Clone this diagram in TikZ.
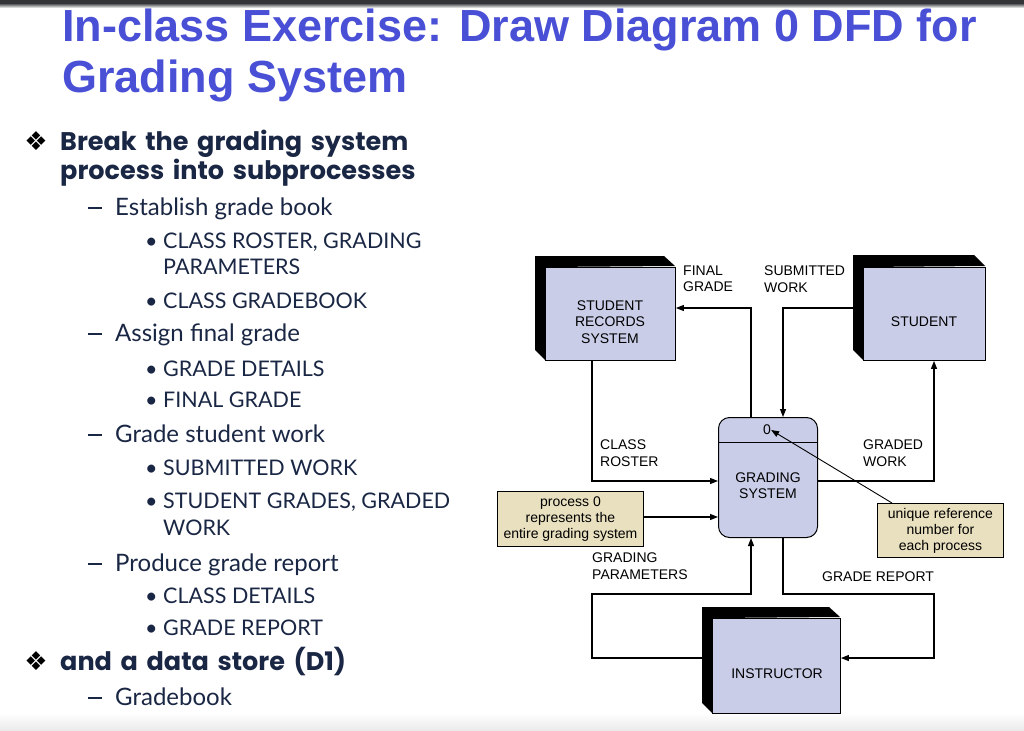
\documentclass[tikz,border=0pt]{standalone}
\usepackage{fontspec}
\setmainfont{Liberation Sans}
\newfontfamily\gill{Lato}
\newfontfamily\gillhead{Poppins}[WordSpace=1.6]
\newfontfamily\dejavu{DejaVu Sans}
\usetikzlibrary{arrows.meta,calc}
\definecolor{titleblue}{RGB}{73,80,214}
\definecolor{navy}{RGB}{26,39,68}
\definecolor{facecol}{RGB}{201,205,232}
\definecolor{tancol}{RGB}{233,224,192}
\definecolor{topbar}{RGB}{50,52,56}
\newcommand{\dashmark}{\rule[6.5pt]{14pt}{1.5pt}}
\begin{document}
\begin{tikzpicture}[x=1pt,y=-1pt,
  face/.style={draw=black, line width=0.9pt, fill=facecol, inner sep=0pt, anchor=north west},
  boxtext/.style={align=center, font=\fontsize{14}{16.3}\selectfont, inner sep=0pt},
  note/.style={draw=black, line width=0.9pt, fill=tancol, align=center, font=\fontsize{14}{16}\selectfont, inner sep=0pt, anchor=north west},
  lbl/.style={anchor=west, align=left, font=\fontsize{14}{16.5}\selectfont, inner sep=0pt},
  flow/.style={draw=black, line width=1.1pt, -{Triangle[length=8pt,width=6pt]}},
  head/.style={anchor=base west, inner sep=0pt, text=navy, font=\gillhead\bfseries\fontsize{25.5}{30}\selectfont},
  sub/.style={anchor=base west, inner sep=0pt, text=navy, font=\gill\fontsize{24}{28}\selectfont},
  item/.style={anchor=base west, inner sep=0pt, text=navy, font=\gill\fontsize{21.5}{26}\selectfont},
  dia/.style={anchor=center, inner sep=0pt, font=\dejavu\fontsize{26}{30}\selectfont},
  ttl/.style={anchor=base west, inner sep=0pt, text=titleblue, font=\bfseries\fontsize{45}{50}\selectfont}]
\useasboundingbox (0,0) rectangle (1024,730);
\fill[white] (0,0) rectangle (1024,730);
% top bar and bottom fade
\fill[topbar] (0,0) rectangle (1024,5);
\shade[top color=topbar!60, bottom color=white] (0,5) rectangle (1024,8);
\shade[top color=white, bottom color=black!8] (0,713) rectangle (1024,730);

% title
\node[ttl] (t1) at (62,42) {In-class Exercise: Draw Diagram 0 DFD for};
\node[ttl] (t2) at (62,93) {Grading System};

% bullets
\node[dia] (d1) at (36,141) {❖};
\node[head] (h1) at (60,150) {Break the grading system};
\node[head] (h1b) at (60,179) {process into subprocesses};
\node[sub] (s1d) at (88,215) {\dashmark};
\node[sub] (s1) at (115,215) {Establish grade book};
\node[item] (b1d) at (145,248) {•};
\node[item] (b1) at (163,248) {CLASS ROSTER, GRADING};
\node[item] (b1b) at (163,274) {PARAMETERS};
\node[item] (b2d) at (145,308) {•};
\node[item] (b2) at (163,308) {CLASS GRADEBOOK};
\node[sub] (s2d) at (88,341) {\dashmark};
\node[sub] (s2) at (115,341) {Assign final grade};
\node[item] (b3d) at (145,376) {•};
\node[item] (b3) at (163,376) {GRADE DETAILS};
\node[item] (b4d) at (145,407) {•};
\node[item] (b4) at (163,407) {FINAL GRADE};
\node[sub] (s3d) at (88,442) {\dashmark};
\node[sub] (s3) at (115,442) {Grade student work};
\node[item] (b5d) at (145,475) {•};
\node[item] (b5) at (163,475) {SUBMITTED WORK};
\node[item] (b6d) at (145,508) {•};
\node[item] (b6) at (163,508) {STUDENT GRADES, GRADED};
\node[item] (b6b) at (163,535) {WORK};
\node[sub] (s4d) at (88,571) {\dashmark};
\node[sub] (s4) at (115,571) {Produce grade report};
\node[item] (b7d) at (145,603) {•};
\node[item] (b7) at (163,603) {CLASS DETAILS};
\node[item] (b8d) at (145,635) {•};
\node[item] (b8) at (163,635) {GRADE REPORT};
\node[dia] (d2) at (36,661) {❖};
\node[head] (h2) at (60,670) {and a data store (D1)};
\node[sub] (s5d) at (88,705) {\dashmark};
\node[sub] (s5) at (115,705) {Gradebook};

% ---- external entities (3D boxes)
% student records system
\fill[black] (535,256) -- (664,256) -- (675,266) -- (545,267) -- (545,360) -- (535,350) -- cycle;
\node[face, minimum width=130pt, minimum height=93pt] (srs) at (545,267) {};
\node[boxtext] (srst) at (610,322) {STUDENT\\RECORDS\\SYSTEM};
% student
\fill[black] (853,255) -- (974,255) -- (985,266) -- (863,267) -- (863,360) -- (853,350) -- cycle;
\node[face, minimum width=122pt, minimum height=93pt] (stu) at (863,267) {};
\node[boxtext] (stut) at (924,322) {STUDENT};
% instructor
\fill[black] (702,607) -- (829,607) -- (840,617) -- (712,618) -- (712,713) -- (702,703) -- cycle;
\node[face, minimum width=128pt, minimum height=95pt] (ins) at (712,618) {};
\node[boxtext] (inst) at (777,674) {INSTRUCTOR};

% process
\node[draw=black, line width=1pt, fill=facecol, rounded corners=11pt, minimum width=99pt, minimum height=120pt, anchor=north west, inner sep=0pt] (proc) at (718,417) {};
\draw[line width=1pt] (proc.west |- 0,442) -- (proc.east |- 0,442);
\node[boxtext] (zero) at (767,430) {0};
\node[boxtext] (proct) at (768,486) {GRADING\\SYSTEM};

% notes
\node[note, minimum width=146pt, minimum height=55pt] (n1) at (497,491) {process 0\\represents the\\entire grading system};
\node[note, minimum width=126pt, minimum height=54pt] (n2) at (877,503) {unique reference\\number for\\each process};

% flows
\coordinate (fgx) at (751,0);
\coordinate (swx) at (783,0);
\draw[flow] (proc.north -| fgx) |- (srs.east |- 0,308);
\draw[flow] (stu.west |- 0,308) -| (proc.north -| swx);
\draw[flow] (srs.south -| 592,0) |- (proc.west |- 0,481);
\draw[flow] (proc.east |- 0,481) -| (stu.south -| 934,0);
\draw[flow] (n1.east |- 0,517) -- (proc.west |- 0,517);
\draw[flow] (ins.west |- 0,658) -| (592,594) -| (proc.south -| fgx);
\draw[flow] (proc.south -| swx) |- (934,594) |- (ins.east |- 0,658);
\draw[flow, line width=0.9pt] (n2.north west) ++(15,0) -- (zero.east);

% labels
\node[lbl] (lfg) at (683,279) {FINAL\\GRADE};
\node[lbl] (lsw) at (764,279) {SUBMITTED\\WORK};
\node[lbl] (lcr) at (600,453) {CLASS\\ROSTER};
\node[lbl] (lgw) at (863,453) {GRADED\\WORK};
\node[lbl] (lgp) at (592,566) {GRADING\\PARAMETERS};
\node[lbl] (lgr) at (822,577) {GRADE REPORT};
\end{tikzpicture}
\end{document}
